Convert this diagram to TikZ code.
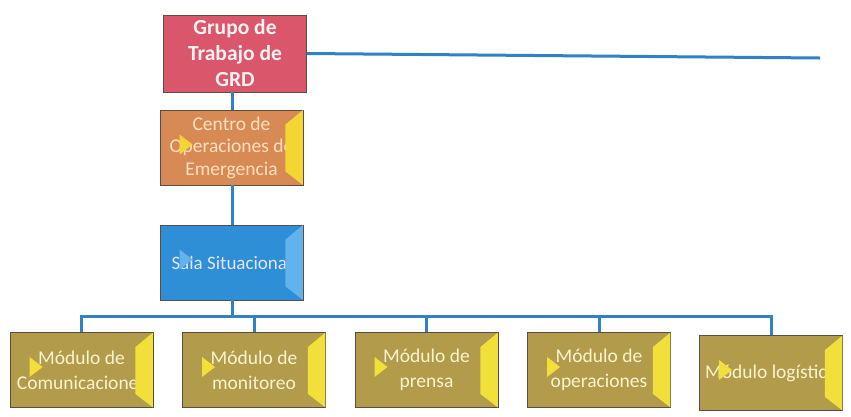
\documentclass[tikz,border=0pt]{standalone}
\usepackage{fontspec}
\setmainfont{Carlito}
\usetikzlibrary{calc}
\definecolor{linkblue}{HTML}{2F82C4}
\definecolor{grupofill}{HTML}{D9566B}
\definecolor{centrofill}{HTML}{D88A55}
\definecolor{salafill}{HTML}{2E8ED6}
\definecolor{salabevel}{HTML}{62B2EC}
\definecolor{modfill}{HTML}{B39B4C}
\definecolor{bevelyellow}{HTML}{F2E03A}
\definecolor{boxborder}{HTML}{5A4E44}
\tikzset{
  box/.style={draw=boxborder, line width=0.9pt, minimum width=143pt, minimum height=75pt, inner sep=0pt, align=center},
  grupobox/.style={box, fill=grupofill, minimum height=77pt, text=white!95!red, font=\fontsize{21.5}{26}\selectfont\bfseries},
  centrobox/.style={box, fill=centrofill, text=orange!25!white, font=\fontsize{19.5}{22.5}\selectfont},
  salabox/.style={box, fill=salafill, text=white!90!blue, font=\fontsize{19}{22}\selectfont},
  modbox/.style={box, fill=modfill, text=yellow!15!white!92!brown, font=\fontsize{19.5}{25}\selectfont},
  link/.style={draw=linkblue, line width=3pt},
}
\newcommand{\bevelbox}[2]{%
  \fill[#2] ($(#1.north east)+(-0.5,0.5)$) -- ($(#1.north east)+(-18,15)$) -- ($(#1.south east)+(-18,-14)$) -- ($(#1.south east)+(-0.5,-0.5)$) -- cycle;
  \fill[#2] ($(#1.west)+(20,-13)$) -- ($(#1.west)+(33,-3)$) -- ($(#1.west)+(20,7)$) -- cycle;
}
\begin{document}
\begin{tikzpicture}[x=1pt,y=-1pt]
\useasboundingbox[fill=white] (0,0) rectangle (851,416);
\coordinate (tr) at (820,58);
\coordinate (bus) at (232,316);
\node[grupobox] (g) at (235,53.5) {Grupo de\\Trabajo de\\GRD};
\node[centrobox] (c) at (231.5,147.5) {Centro de\\Operaciones de\\Emergencia};
\node[salabox] (s) at (231.5,262.5) {Sala Situacional};
\node[modbox] (m1) at (81.5,370) {Módulo de\\Comunicaciones};
\node[modbox] (m2) at (254,370) {Módulo de\\monitoreo};
\node[modbox] (m3) at (426.5,370) {Módulo de\\prensa};
\node[modbox] (m4) at (599,370) {Módulo de\\operaciones};
\node[modbox] (m5) at (771,373) {Módulo logístico};
\bevelbox{c}{bevelyellow!90!orange}
\bevelbox{s}{salabevel}
\bevelbox{m1}{bevelyellow}
\bevelbox{m2}{bevelyellow}
\bevelbox{m3}{bevelyellow}
\bevelbox{m4}{bevelyellow}
\bevelbox{m5}{bevelyellow}
\draw[link] (g.east) -- (tr);
\draw[link] (g.south -| bus) -- (c.north -| bus);
\draw[link] (c.south -| bus) -- (s.north -| bus);
\draw[link] (s.south -| bus) -- (bus);
\draw[link] (m1.north) -- (m1.north |- bus) -- (m5.north |- bus) -- (m5.north);
\draw[link] (m2.north) -- (m2.north |- bus);
\draw[link] (m3.north) -- (m3.north |- bus);
\draw[link] (m4.north) -- (m4.north |- bus);
\end{tikzpicture}
\end{document}
